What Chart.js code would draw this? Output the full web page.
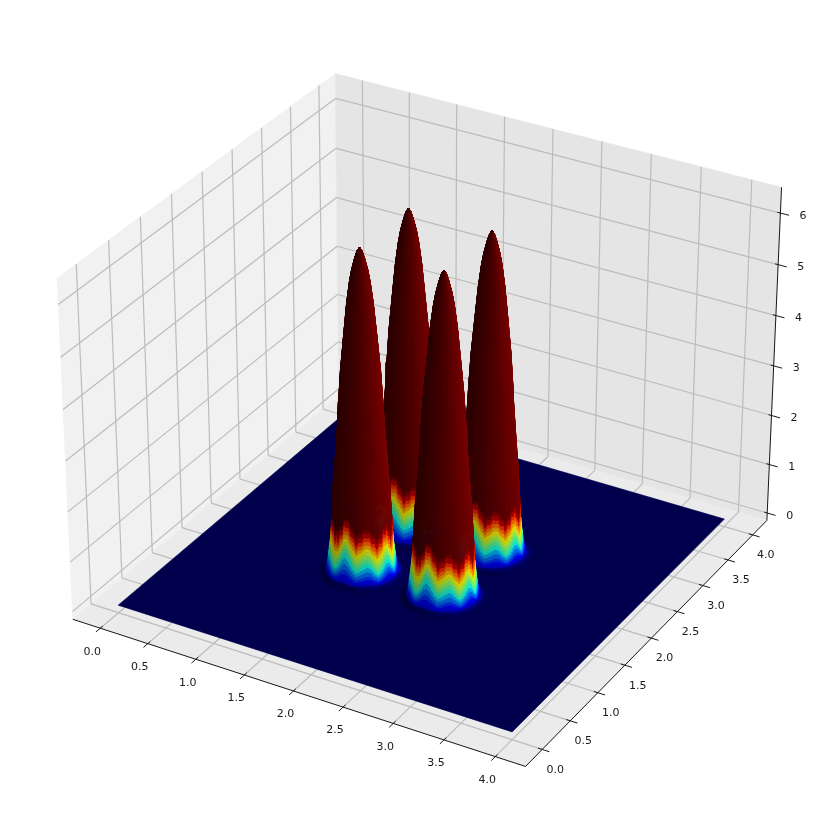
<!DOCTYPE html>
<html>
<head>
<meta charset="utf-8">
<script src="https://cdn.jsdelivr.net/npm/chart.js@4/dist/chart.umd.min.js"></script>
<style>
html,body{margin:0;padding:0;background:#fff}
canvas{display:block;filter:blur(.6px)}
</style>
</head>
<body>
<canvas id="c" width="830" height="830"></canvas>
<script>
// Axis ticks
const xTicks = [0, 0.5, 1, 1.5, 2, 2.5, 3, 3.5, 4];
const yTicks = [0, 0.5, 1, 1.5, 2, 2.5, 3, 3.5, 4];
const zTicks = [0, 1, 2, 3, 4, 5, 6];
const xTickLabels = ['0.0','0.5','1.0','1.5','2.0','2.5','3.0','3.5','4.0'];
const yTickLabels = ['0.0','0.5','1.0','1.5','2.0','2.5','3.0','3.5','4.0'];
const zTickLabels = ['0','1','2','3','4','5','6'];
// Axis limits of the 3D box
const xLim = [-0.292, 4.292];
const yLim = [-0.292, 4.292];
const zLim = [-0.155, 6.494];
// Surface extent, floor level
const floorX = [0, 4];
const floorY = [0, 4];
const floorZ = 0;
// Peaks, far to near
const peakX = [1.58, 2.42, 1.58, 2.42];
const peakY = [2.42, 2.42, 1.58, 1.58];
// Radial profile of one peak
const ringZ = [0,.01,.03,.06,.1,.15,.2,.27,.34,.41,.48,.55,.62,.69,.76,.83,.9,1,1.08,1.6,1.8,2.05,2.38,2.7,3.02,3.35,3.99,4.63,5.29,5.7,5.93,6.15,6.3,6.36];
const ringR = [.39,.36,.34,.325,.318,.313,.308,.303,.298,.294,.29,.285,.282,.279,.276,.274,.272,.27,.268,.254,.248,.238,.226,.215,.204,.196,.176,.147,.116,.09,.07,.043,.02,0];
const ringRippleGain = [0,0,0,.1,.25,.4,.55,.7,.85,1,1,1,1,1,1,1,1,1,.9,0,0,0,0,0,0,0,0,0,0,0,0,0,0,0];
const ringSpikeGain  = [0,0,0,0,0,0,0,0,0,0,0,0,0,.15,.35,.55,.7,.7,.55,0,0,0,0,0,0,0,0,0,0,0,0,0,0,0];
const colorRingCount = 18;
// Wavy height offset of the colour bands, sampled every 5 degrees across the visible front
const ripple = [0,-.05,-.1,-.18,-.2,-.12,-.05,.03,.06,.03,-.05,-.11,-.15,-.1,-.03,.05,.09,.06,.02,-.02,-.05,.02,.12,.22,.27,.21,.1,0,-.07,-.11,-.1,-.04,.02,.05,.04,.02,0];
const spike  = [.1,.16,-.02,.1,-.05,.12,.02,.14,-.03,.08,-.06,.05,-.04,.06,-.03,.03,-.02,.05,-.04,.02,-.05,.06,-.02,.08,-.03,.1,-.04,.08,-.05,.12,-.03,.14,0,.1,.04,.06,0];
const rippleStep = 5;
const stripStep = 2.5;
// Colour map (jet) knots
const jetRX=[0,.35,.66,.89,1], jetRV=[0,0,1,1,.5];
const jetGX=[0,.125,.375,.64,.91,1], jetGV=[0,0,1,1,0,0];
const jetBX=[0,.11,.34,.65,1], jetBV=[.5,1,1,0,0];
const colorMax = 1;
// Camera
const view = {az:-60, el:30, dist:10, box:[1.1428,1.1428,.8571]};
const viewRangeX = [-0.09383, 0.08899];
const viewRangeY = [-0.09383, 0.08899];
const light = [.667,.667,-.333];
// Colours
const wallXColor='#f1f1f1', wallYColor='#e5e5e5', wallZColor='#ebebeb';
const gridColor='#bcbcbc', axisColor='#181818', textColor='#1a1a1a';
const floorShade=.6;

const rad=Math.PI/180;
const ca=Math.cos(view.az*rad), sa=Math.sin(view.az*rad), ce=Math.cos(view.el*rad), se=Math.sin(view.el*rad);
const W=[ce*ca,ce*sa,se];
const U=[-sa,ca,0];
const Vv=[-se*ca,-se*sa,ce];
function project(x,y,z){
  const p=[(x-xLim[0])/(xLim[1]-xLim[0])-.5,(y-yLim[0])/(yLim[1]-yLim[0])-.5,(z-zLim[0])/(zLim[1]-zLim[0])-.5].map((v,i)=>v*view.box[i]);
  const dot=a=>a[0]*p[0]+a[1]*p[1]+a[2]*p[2];
  const D=view.dist-dot(W);
  return {x:dot(U)/D,y:dot(Vv)/D,d:D};
}
function lerp(X,V,t){
  for(let i=1;i<X.length;i++){ if(t<=X[i]){return V[i-1]+(V[i]-V[i-1])*(t-X[i-1])/(X[i]-X[i-1]);} }
  return V[V.length-1];
}
function jet(t,scale){
  t=Math.max(0,Math.min(1,t));
  const c=[lerp(jetRX,jetRV,t),lerp(jetGX,jetGV,t),lerp(jetBX,jetBV,t)];
  return 'rgb('+c.map(v=>Math.round(v*scale*255)).join(',')+')';
}
function poly(points,color,bw){
  return {data:points.concat([points[0]]).map(p=>({x:p.x,y:p.y})),showLine:true,fill:'shape',backgroundColor:color,borderColor:color,borderWidth:bw===undefined?.6:bw,pointRadius:0,tension:0};
}
function line(a,b,color,w){
  return {data:[{x:a.x,y:a.y},{x:b.x,y:b.y}],showLine:true,fill:false,borderColor:color,borderWidth:w,pointRadius:0,tension:0};
}
function wave(arr,f){
  const q=f/rippleStep, i=Math.floor(q);
  if(i>=arr.length-1)return f===(arr.length-1)*rippleStep?arr[arr.length-1]:0;
  return arr[i]+(arr[i+1]-arr[i])*(q-i);
}
const sets=[];
const xa=xLim[0],xb=xLim[1],ya=yLim[0],yb=yLim[1],za=zLim[0],zb=zLim[1];
// panes
sets.push(poly([project(xa,ya,za),project(xa,yb,za),project(xa,yb,zb),project(xa,ya,zb)],wallXColor));
sets.push(poly([project(xa,yb,za),project(xb,yb,za),project(xb,yb,zb),project(xa,yb,zb)],wallYColor));
sets.push(poly([project(xa,ya,za),project(xb,ya,za),project(xb,yb,za),project(xa,yb,za)],wallZColor));
// grid
const gw=1.2;
xTicks.forEach(t=>{
  sets.push(line(project(t,ya,za),project(t,yb,za),gridColor,gw));
  sets.push(line(project(t,yb,za),project(t,yb,zb),gridColor,gw));
});
yTicks.forEach(t=>{
  sets.push(line(project(xb,t,za),project(xa,t,za),gridColor,gw));
  sets.push(line(project(xa,t,za),project(xa,t,zb),gridColor,gw));
});
zTicks.forEach(t=>{
  sets.push(line(project(xa,ya,t),project(xa,yb,t),gridColor,gw));
  sets.push(line(project(xa,yb,t),project(xb,yb,t),gridColor,gw));
});
// axis lines and tick marks
sets.push(line(project(xa,ya,za),project(xb,ya,za),axisColor,1));
sets.push(line(project(xb,ya,za),project(xb,yb,za),axisColor,1));
sets.push(line(project(xb,yb,za),project(xb,yb,zb),axisColor,1));
const tickOut=.07, tickIn=.04, zTickOut=.085, zTickIn=.03;
xTicks.forEach(t=>sets.push(line(project(t,ya+tickIn,za),project(t,ya-tickOut,za),axisColor,1)));
yTicks.forEach(t=>sets.push(line(project(xb-tickIn,t,za),project(xb+tickOut,t,za),axisColor,1)));
zTicks.forEach(t=>sets.push(line(project(xb-zTickIn,yb,t),project(xb+zTickOut,yb,t),axisColor,1)));
// floor surface
sets.push(poly([project(floorX[0],floorY[0],floorZ),project(floorX[1],floorY[0],floorZ),project(floorX[1],floorY[1],floorZ),project(floorX[0],floorY[1],floorZ)],jet(0,floorShade)));
// peaks
function shadeOf(th,s){
  const nl=Math.sqrt(1+s*s);
  return .66+.33*(s*Math.cos(th)*light[0]+s*Math.sin(th)*light[1]+light[2])/nl;
}
peakX.forEach((cx,pi)=>{
  const cy=peakY[pi];
  const pt=(k,f)=>{
    const th=(30-f)*rad;
    const dz=ringRippleGain[k]*wave(ripple,f)+ringSpikeGain[k]*wave(spike,f);
    return project(cx+ringR[k]*Math.cos(th),cy+ringR[k]*Math.sin(th),ringZ[k]+dz);
  };
  // colour bands
  const facets=[];
  for(let f0=0;f0<360;f0+=rippleStep){
    const f1=f0+rippleStep;
    for(let i=0;i<colorRingCount;i++){
      if(f0>=200&&f1<=340&&i>2)continue;
      const a=pt(i,f0),b=pt(i,f1),c=pt(i+1,f1),e=pt(i+1,f0);
      const thm=(30-(f0+f1)/2)*rad;
      const s=(ringZ[i+1]-ringZ[i])/Math.max(1e-3,ringR[i]-ringR[i+1]);
      const raw=shadeOf(thm,s);
      const sc=i>2?.45+.55*raw:raw;
      const col=jet(((ringZ[i]+ringZ[i+1])/2)/colorMax,sc);
      facets.push({d:(a.d+b.d+c.d+e.d)/4,set:poly([a,b,c,e],col)});
    }
  }
  facets.sort((p,q)=>q.d-p.d);
  facets.forEach(f=>sets.push(f.set));
  // saturated upper part as vertical strips
  const last=ringZ.length-1;
  const sUp=(ringZ[last]-ringZ[colorRingCount])/(ringR[colorRingCount]-ringR[last]);
  const strips=[];
  for(let f0=0;f0<360;f0+=stripStep){
    const f1=f0+stripStep, up=[], down=[];
    for(let k=colorRingCount;k<=last;k++){ up.push(pt(k,f0)); down.unshift(pt(k,f1)); }
    const mid=pt(colorRingCount,(f0+f1)/2);
    const col=jet(1,shadeOf((30-(f0+f1)/2)*rad,sUp));
    strips.push({d:mid.d,set:poly(up.concat(down),col,.5)});
  }
  strips.sort((p,q)=>q.d-p.d);
  strips.forEach(f=>sets.push(f.set));
});
// first dataset is painted last, so reverse
sets.reverse();

const labelPlugin={
  id:'tickText',
  afterDraw(chart){
    const c=chart.ctx, sx=chart.scales.x, sy=chart.scales.y;
    c.save();
    c.fillStyle=textColor; c.font='11px "DejaVu Sans"'; c.textAlign='center'; c.textBaseline='middle';
    const put=(txt,p,dx,dy)=>c.fillText(txt,sx.getPixelForValue(p.x)+dx,sy.getPixelForValue(p.y)+dy);
    xTicks.forEach((t,i)=>put(xTickLabels[i],project(t,ya,za),-8,23.5));
    yTicks.forEach((t,i)=>put(yTickLabels[i],project(xb,t,za),13,20.5));
    zTicks.forEach((t,i)=>put(zTickLabels[i],project(xb,yb,t),22.5,2.7));
    c.restore();
  }
};
new Chart(document.getElementById('c'),{
  type:'scatter',
  data:{datasets:sets},
  options:{
    responsive:false,animation:false,events:[],
    layout:{padding:0},
    plugins:{legend:{display:false},tooltip:{enabled:false},title:{display:false}},
    scales:{
      x:{type:'linear',display:false,min:viewRangeX[0],max:viewRangeX[1]},
      y:{type:'linear',display:false,min:viewRangeY[0],max:viewRangeY[1]}
    }
  },
  plugins:[labelPlugin]
});
</script>
</body>
</html>
